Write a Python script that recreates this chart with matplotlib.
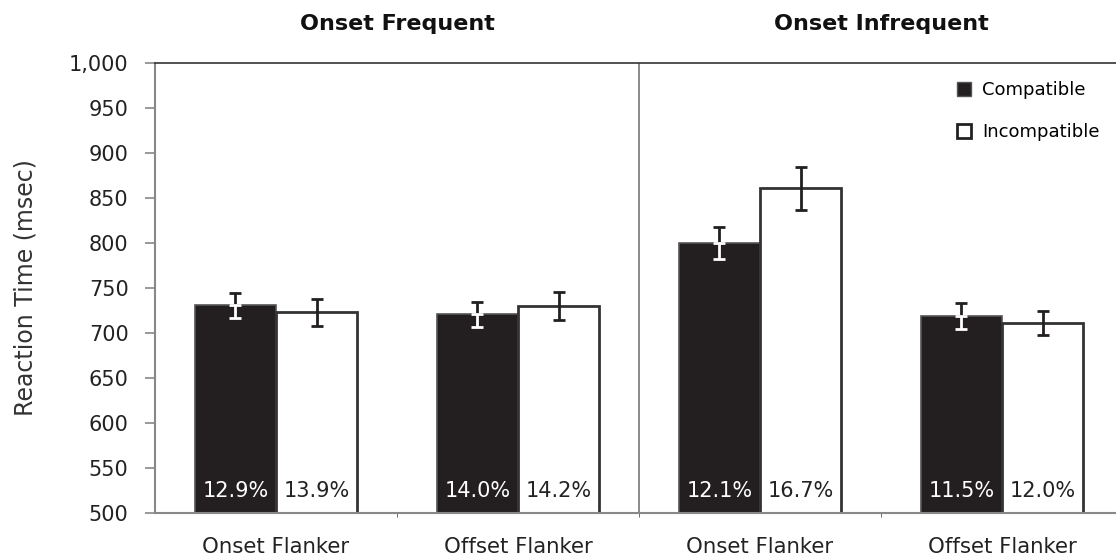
import matplotlib.pyplot as plt
from matplotlib.lines import Line2D

categories = ["Onset Flanker", "Offset Flanker", "Onset Flanker", "Offset Flanker"]
groups = ["Onset Frequent", "Onset Infrequent"]
compatible = [731, 721, 800, 719]
incompatible = [723, 730, 861, 711]
compatible_err = [14, 14, 18, 14]
incompatible_err = [15, 16, 24, 13]
compatible_pct = ["12.9%", "14.0%", "12.1%", "11.5%"]
incompatible_pct = ["13.9%", "14.2%", "16.7%", "12.0%"]

W, H = 1116, 556
fig = plt.figure(figsize=(W / 100, H / 100), dpi=100)
ax = fig.add_axes([155 / W, 43 / H, 968 / W, 450 / H])

bw = 0.335
x = list(range(len(categories)))
xc = [i - bw / 2 for i in x]
xi = [i + bw / 2 for i in x]
dark = "#231f20"

ax.bar(xc, [v - 500 for v in compatible], bw, bottom=500, color=dark,
       edgecolor="#555555", linewidth=1.2, zorder=2)
ax.bar(xi, [v - 500 for v in incompatible], bw, bottom=500, color="white",
       edgecolor="#333333", linewidth=2, zorder=2)

# error bars: upper half black, lower half (inside the dark bar) white
ax.errorbar(xc, compatible, yerr=[[0] * 4, compatible_err], fmt="none",
            ecolor=dark, elinewidth=2, capsize=4, capthick=2, zorder=3)
ax.errorbar(xc, compatible, yerr=[compatible_err, [0] * 4], fmt="none",
            ecolor="white", elinewidth=2, capsize=4, capthick=2, zorder=3)
ax.errorbar(xi, incompatible, yerr=incompatible_err, fmt="none",
            ecolor=dark, elinewidth=2, capsize=4, capthick=2, zorder=3)

for i in x:
    ax.text(xc[i], 518, compatible_pct[i], ha="center", va="baseline",
            color="white", fontsize=15, zorder=4)
    ax.text(xi[i], 518, incompatible_pct[i], ha="center", va="baseline",
            color="#222222", fontsize=15, zorder=4)

ax.axvline(1.5, color="#777777", linewidth=1.2, zorder=1)

ax.set_xlim(-0.5, 3.5)
ax.set_ylim(500, 1000)
ax.set_yticks(range(500, 1001, 50))
ax.set_yticklabels([f"{v:,}" for v in range(500, 1001, 50)])
ax.set_xticks(x)
ax.set_xticklabels(categories)
ax.set_xticks([0.5, 1.5, 2.5], minor=True)
ax.tick_params(axis="x", which="major", length=0, pad=17, labelsize=15.3, labelcolor="#222222")
ax.tick_params(axis="x", which="minor", length=3, color="#555555")
ax.tick_params(axis="y", length=7, width=1.2, color="#888888", pad=12,
               labelsize=15, labelcolor="#222222")

for s in ["left", "bottom"]:
    ax.spines[s].set_color("#888888")
    ax.spines[s].set_linewidth(1.5)
ax.spines["top"].set_color("#333333")
ax.spines["top"].set_linewidth(1.2)
ax.spines["right"].set_visible(False)

ax.set_ylabel("Reaction Time (msec)", fontsize=17, color="#333333", labelpad=23)

for gx, name in zip([0.5, 2.5], groups):
    ax.text(gx, 1043, name, ha="center", va="center", fontsize=16,
            fontweight="bold", color="#111111", clip_on=False)

handles = [
    Line2D([], [], marker="s", linestyle="none", markersize=10,
           markerfacecolor=dark, markeredgecolor="#555555", markeredgewidth=1),
    Line2D([], [], marker="s", linestyle="none", markersize=10,
           markerfacecolor="white", markeredgecolor="#222222", markeredgewidth=2),
]
fig.legend(handles, ["Compatible", "Incompatible"], loc="upper left",
           bbox_to_anchor=(948 / W, 1 - 72 / H), frameon=False, fontsize=13,
           handlelength=0.8, handletextpad=0.6, labelspacing=1.35, borderpad=0)

fig.savefig("out.png", dpi=100)
